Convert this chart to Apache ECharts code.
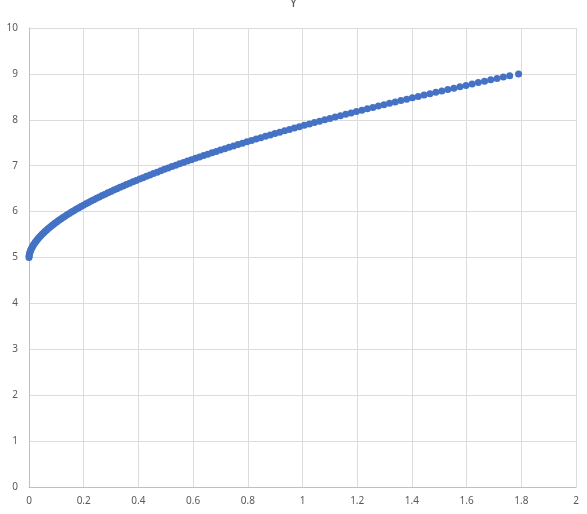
<!DOCTYPE html>
<html>
<head>
<meta charset="utf-8">
<script src="https://cdn.jsdelivr.net/npm/echarts@6/dist/echarts.min.js"></script>
<style>html,body{margin:0;padding:0;background:#fff}#c{width:587px;height:514px}</style>
</head>
<body>
<div id="c"></div>
<script>
var titleText = "Y";
var xTicks = [0, 0.2, 0.4, 0.6, 0.8, 1, 1.2, 1.4, 1.6, 1.8, 2];
var yTicks = [0, 1, 2, 3, 4, 5, 6, 7, 8, 9, 10];
var xValues = [0,0.0003,0.0012,0.0023,0.0039,0.0057,0.0079,0.0103,0.0130,0.0160,0.0192,0.0227,0.0265,0.0304,0.0346,0.0391,0.0438,0.0487,0.0538,0.0591,0.0647,0.0704,0.0764,0.0826,0.0890,0.0956,0.1024,0.1093,0.1165,0.1239,0.1315,0.1392,0.1472,0.1553,0.1637,0.1722,0.1809,0.1898,0.1988,0.2081,0.2175,0.2271,0.2369,0.2469,0.2570,0.2673,0.2778,0.2885,0.2993,0.3103,0.3214,0.3328,0.3443,0.3559,0.3678,0.3798,0.3919,0.4043,0.4168,0.4294,0.4422,0.4552,0.4684,0.4817,0.4951,0.5087,0.5225,0.5365,0.5505,0.5648,0.5792,0.5937,0.6085,0.6233,0.6383,0.6535,0.6688,0.6843,0.7000,0.7157,0.7316,0.7477,0.7640,0.7804,0.7969,0.8135,0.8304,0.8473,0.8645,0.8817,0.8991,0.9167,0.9344,0.9522,0.9702,0.9884,1.0066,1.0251,1.0436,1.0623,1.0812,1.1002,1.1193,1.1386,1.1580,1.1776,1.1972,1.2171,1.2371,1.2572,1.2774,1.2978,1.3183,1.3390,1.3598,1.3808,1.4019,1.4231,1.4444,1.4659,1.4875,1.5093,1.5312,1.5533,1.5754,1.5977,1.6201,1.6427,1.6656,1.6882,1.7112,1.7343,1.7576,1.7900];
var yValues = [5.00,5.03,5.06,5.09,5.12,5.15,5.18,5.21,5.24,5.27,5.30,5.33,5.36,5.39,5.42,5.45,5.48,5.51,5.54,5.57,5.60,5.63,5.66,5.69,5.72,5.75,5.78,5.81,5.84,5.87,5.90,5.93,5.96,5.99,6.02,6.05,6.08,6.11,6.14,6.17,6.20,6.23,6.26,6.29,6.32,6.35,6.38,6.41,6.44,6.47,6.50,6.53,6.56,6.59,6.62,6.65,6.68,6.71,6.74,6.77,6.80,6.83,6.86,6.89,6.92,6.95,6.98,7.01,7.04,7.07,7.10,7.13,7.16,7.19,7.22,7.25,7.28,7.31,7.34,7.37,7.40,7.43,7.46,7.49,7.52,7.55,7.58,7.61,7.64,7.67,7.70,7.73,7.76,7.79,7.82,7.85,7.88,7.91,7.94,7.97,8.00,8.03,8.06,8.09,8.12,8.15,8.18,8.21,8.24,8.27,8.30,8.33,8.36,8.39,8.42,8.45,8.48,8.51,8.54,8.57,8.60,8.63,8.66,8.69,8.72,8.75,8.78,8.81,8.84,8.87,8.90,8.93,8.96,9.00];

var points = xValues.map(function (x, i) { return [x, yValues[i]]; });
var chart = echarts.init(document.getElementById('c'), null, {renderer: 'canvas'});
var labelStyle = {color: '#595959', fontSize: 10, fontFamily: 'Noto Sans'};
chart.setOption({
  animation: false,
  title: {
    text: titleText, left: 'center', top: -9,
    textStyle: {color: '#595959', fontSize: 14, fontWeight: 'normal', fontFamily: 'Noto Sans'}
  },
  grid: {left: 29, right: 11, top: 28, bottom: 27, containLabel: false},
  xAxis: {
    type: 'value', min: xTicks[0], max: xTicks[xTicks.length - 1], interval: 0.2,
    axisLine: {show: true, lineStyle: {color: '#bfbfbf', width: 1}},
    axisTick: {show: false},
    axisLabel: Object.assign({margin: 9, formatter: function (v) { return String(Math.round(v * 10) / 10); }}, labelStyle),
    splitLine: {show: true, lineStyle: {color: '#dcdcdc', width: 1}}
  },
  yAxis: {
    type: 'value', min: yTicks[0], max: yTicks[yTicks.length - 1], interval: 1,
    axisLine: {show: true, lineStyle: {color: '#bfbfbf', width: 1}},
    axisTick: {show: false},
    axisLabel: Object.assign({margin: 11}, labelStyle),
    splitLine: {show: true, lineStyle: {color: '#dcdcdc', width: 1}}
  },
  series: [{
    type: 'scatter',
    data: points,
    symbol: 'circle',
    symbolSize: 7,
    itemStyle: {color: '#4472C4', opacity: 1}
  }]
});
</script>
</body>
</html>
